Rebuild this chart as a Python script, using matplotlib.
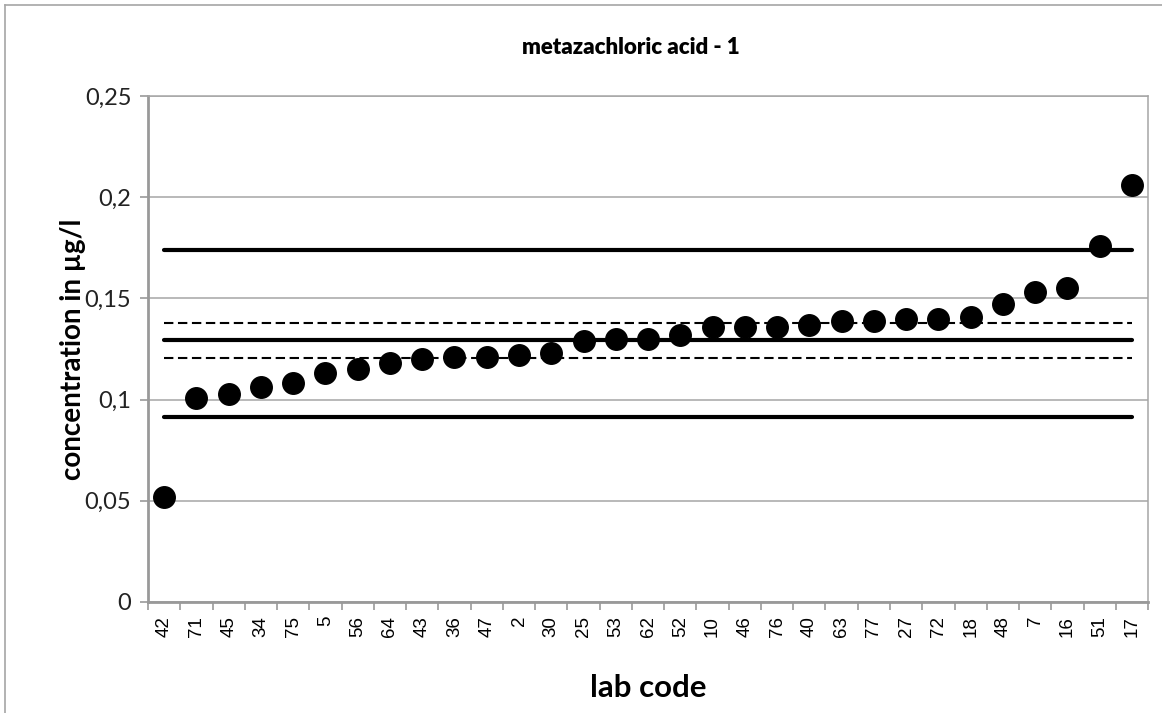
import numpy as np
import matplotlib
matplotlib.use("Agg")
import matplotlib.pyplot as plt
from matplotlib.lines import Line2D

# data
lab_codes = ["42", "71", "45", "34", "75", "5", "56", "64", "43", "36", "47", "2",
             "30", "25", "53", "62", "52", "10", "46", "76", "40", "63", "77", "27",
             "72", "18", "48", "7", "16", "51", "17"]
concentration = [0.052, 0.101, 0.103, 0.106, 0.108, 0.113, 0.115, 0.118, 0.120,
                 0.121, 0.121, 0.122, 0.123, 0.129, 0.130, 0.130, 0.132, 0.136,
                 0.136, 0.136, 0.137, 0.139, 0.139, 0.140, 0.140, 0.141, 0.147,
                 0.153, 0.155, 0.176, 0.206]
assigned_value = 0.1293
tolerance_limits = [0.0913, 0.1741]
uncertainty_limits = [0.1206, 0.1378]
y_ticks = [0, 0.05, 0.1, 0.15, 0.2, 0.25]
y_tick_labels = ["0", "0,05", "0,1", "0,15", "0,2", "0,25"]

plt.rcParams['font.family'] = ['Lato', 'DejaVu Sans']

fig = plt.figure(figsize=(11.62, 7.13), dpi=100)
ax = fig.add_axes([0.1274, 0.1557, 0.8606, 0.7097])

x = np.arange(len(lab_codes))
x_line = [x[0], x[-1]]

# horizontal reference lines
for yv in tolerance_limits + [assigned_value]:
    ax.plot(x_line, [yv, yv], color="black", lw=3.0, solid_capstyle="round", zorder=3)
for yv in uncertainty_limits:
    ax.plot(x_line, [yv, yv], color="black", lw=1.5, dashes=(4.5, 2.2), zorder=3)

ax.plot(x, concentration, "o", color="black", markersize=15.5, zorder=4)

ax.set_xlim(-0.5, len(lab_codes) - 0.5)
ax.set_ylim(0, 0.25)
ax.set_yticks(y_ticks)
ax.set_yticklabels(y_tick_labels, fontsize=17, color="#222222")
ax.set_xticks(x)
ax.set_xticklabels(lab_codes, rotation=90, fontsize=13.5, family=["Liberation Sans"])
ax.set_xticks(np.arange(len(lab_codes) + 1) - 0.5, minor=True)
ax.tick_params(axis="x", which="major", length=0, pad=10)
ax.tick_params(axis="x", which="minor", length=6, color="#999999", width=1.2)
ax.tick_params(axis="y", length=6, color="#999999", width=1.2, pad=6)

ax.grid(axis="y", color="#a6a6a6", lw=1.1, zorder=0)
ax.set_axisbelow(True)
for side in ["left", "bottom"]:
    ax.spines[side].set_color("#999999")
    ax.spines[side].set_linewidth(2.0)
for side in ["right", "top"]:
    ax.spines[side].set_color("#a6a6a6")
    ax.spines[side].set_linewidth(1.1)

fig.text(0.543, 0.934, "metazachloric acid - 1", fontsize=16, fontweight="heavy",
         ha="center", va="center")
ax.set_xlabel("lab code", fontsize=22.5, fontweight="bold", labelpad=27)
ax.set_ylabel("concentration in µg/l", fontsize=20, fontweight="bold", labelpad=-1)

# outer chart frame (only top and left edges visible)
fig.add_artist(Line2D([5 / 1162, 5 / 1162], [0, 1 - 5 / 713], transform=fig.transFigure,
                      color="#a6a6a6", lw=1.2))
fig.add_artist(Line2D([5 / 1162, 1], [1 - 5 / 713, 1 - 5 / 713], transform=fig.transFigure,
                      color="#a6a6a6", lw=1.2))

fig.savefig("out.png", dpi=100)
